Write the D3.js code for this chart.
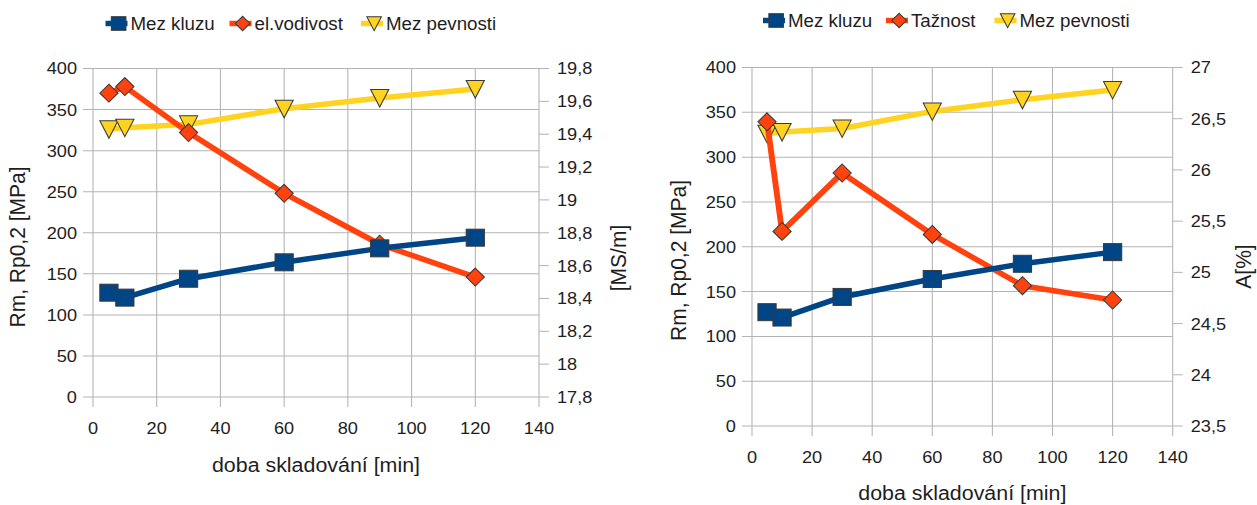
<!DOCTYPE html>
<html>
<head>
<meta charset="utf-8">
<script src="https://cdn.jsdelivr.net/npm/d3@7"></script>
<style>
  html, body { margin: 0; padding: 0; background: #fff; overflow: hidden; }
  text { font-family: "Liberation Sans", Arial, sans-serif; fill: #1e1e1e; }
</style>
</head>
<body>
<svg id="chart" width="1257" height="505"></svg>
<script>
// Storage time (minutes)
const minutes = [5, 10, 30, 60, 90, 120];
// Yield strength Rp0,2 [MPa]
const mezKluzu = [127, 121, 144, 164, 181, 194];
// Tensile strength Rm [MPa]
const mezPevnosti = [326, 328, 332, 351, 364, 375];
// Electrical conductivity [MS/m]
const elVodivost = [19.65, 19.69, 19.41, 19.04, 18.73, 18.53];
// Elongation A [%]
const taznost = [26.47, 25.40, 25.97, 25.37, 24.87, 24.73];

const xTicks = [0, 20, 40, 60, 80, 100, 120, 140];
const stressTicks = [0, 50, 100, 150, 200, 250, 300, 350, 400];
const vodivostTicks = [17.8, 18.0, 18.2, 18.4, 18.6, 18.8, 19.0, 19.2, 19.4, 19.6, 19.8];
const taznostTicks = [23.5, 24.0, 24.5, 25.0, 25.5, 26.0, 26.5, 27.0];

const xTitle = "doba skladování [min]";
const yTitle = "Rm, Rp0,2 [MPa]";

const COLORS = { blue: "#004586", red: "#ff420e", yellow: "#ffd320" };
const GRID = "#b3b3b3";
const MARK_STROKE = "#3a3a3a";

// Drawing is slightly wider than tall; work in a horizontally squeezed space
const SX = 1.07;
const W = 1257 / SX, H = 505;
const X = v => v / SX;

const svg = d3.select("#chart")
  .attr("viewBox", `0 0 ${W} ${H}`)
  .attr("preserveAspectRatio", "none");

const fmt = v => (+v.toFixed(1)).toString().replace(".", ",");

function marker(g, shape, cx, cy, color, k = 1) {
  if (shape === "square") {
    g.append("rect")
      .attr("x", cx - 8.5 * k).attr("y", cy - 8.5 * k)
      .attr("width", 17 * k).attr("height", 17 * k)
      .attr("fill", color).attr("stroke", MARK_STROKE).attr("stroke-width", 1);
  } else if (shape === "diamond") {
    g.append("path")
      .attr("d", `M${cx},${cy - 9 * k}L${cx + 8.5 * k},${cy}L${cx},${cy + 9 * k}L${cx - 8.5 * k},${cy}Z`)
      .attr("fill", color).attr("stroke", MARK_STROKE).attr("stroke-width", 1);
  } else {
    g.append("path")
      .attr("d", `M${cx - 8.5 * k},${cy - 8.5 * k}L${cx + 8.5 * k},${cy - 8.5 * k}L${cx},${cy + 9 * k}Z`)
      .attr("fill", color).attr("stroke", MARK_STROKE).attr("stroke-width", 1);
  }
}

function panel(cfg) {
  const g = svg.append("g");
  const xs = d3.scaleLinear([0, 140], [X(cfg.x0), X(cfg.x1)]);
  const yL = d3.scaleLinear([0, 400], [cfg.y1, cfg.y0]);
  const yR = d3.scaleLinear(cfg.rightDomain, [cfg.y1, cfg.y0]);

  // vertical grid + bottom ticks
  g.selectAll(null).data(xTicks).join("line")
    .attr("x1", d => xs(d)).attr("x2", d => xs(d))
    .attr("y1", cfg.y0).attr("y2", cfg.y1 + 10)
    .attr("stroke", GRID).attr("stroke-width", 1);
  // horizontal grid + left ticks
  g.selectAll(null).data(stressTicks).join("line")
    .attr("x1", X(cfg.x0 - 10)).attr("x2", X(cfg.x1))
    .attr("y1", d => yL(d)).attr("y2", d => yL(d))
    .attr("stroke", GRID).attr("stroke-width", 1);
  // right axis ticks
  g.selectAll(null).data(cfg.rightTicks).join("line")
    .attr("x1", X(cfg.x1)).attr("x2", X(cfg.x1 + 10))
    .attr("y1", d => yR(d)).attr("y2", d => yR(d))
    .attr("stroke", GRID).attr("stroke-width", 1);

  // tick labels
  g.selectAll(null).data(xTicks).join("text")
    .attr("x", d => xs(d)).attr("y", cfg.xLabelY)
    .attr("text-anchor", "middle").attr("font-size", 17)
    .text(d => d);
  g.selectAll(null).data(stressTicks).join("text")
    .attr("x", X(cfg.x0 - 16)).attr("y", d => yL(d) + 6)
    .attr("text-anchor", "end").attr("font-size", 17)
    .text(d => d);
  g.selectAll(null).data(cfg.rightTicks).join("text")
    .attr("x", X(cfg.x1 + 18)).attr("y", d => yR(d) + 6)
    .attr("text-anchor", "start").attr("font-size", 17)
    .text(d => fmt(d));

  // axis titles
  g.append("text")
    .attr("x", X((cfg.x0 + cfg.x1) / 2)).attr("y", cfg.xTitleY)
    .attr("text-anchor", "middle").attr("font-size", 20)
    .text(xTitle);
  g.append("text")
    .attr("transform", `translate(${X(cfg.yTitle[0])},${cfg.yTitle[1]}) rotate(-90)`)
    .attr("text-anchor", "middle").attr("dy", "0.35em").attr("font-size", 21)
    .text(yTitle);
  g.append("text")
    .attr("transform", `translate(${X(cfg.rTitle[0])},${cfg.rTitle[1]}) rotate(-90)`)
    .attr("text-anchor", "middle").attr("dy", "0.35em").attr("font-size", 21)
    .text(cfg.rTitleText);

  // series: drawn back to front
  const series = [
    { values: mezPevnosti, y: yL, color: COLORS.yellow, shape: "triangle" },
    { values: cfg.rightValues, y: yR, color: COLORS.red, shape: "diamond" },
    { values: mezKluzu, y: yL, color: COLORS.blue, shape: "square" }
  ];
  series.forEach(s => {
    const pts = minutes.map((m, i) => [xs(m), s.y(s.values[i])]);
    g.append("path")
      .attr("d", d3.line()(pts))
      .attr("fill", "none").attr("stroke", s.color)
      .attr("stroke-width", 5.5).attr("stroke-linejoin", "round");
    pts.forEach(p => marker(g, s.shape, p[0], p[1], s.color));
  });

  // legend
  const legend = [
    { name: "Mez kluzu", color: COLORS.blue, shape: "square" },
    { name: cfg.rightName, color: COLORS.red, shape: "diamond" },
    { name: "Mez pevnosti", color: COLORS.yellow, shape: "triangle" }
  ];
  legend.forEach((it, i) => {
    const tx = cfg.legendX[i];
    const a = X(tx - 25), b = X(tx - 3);
    g.append("line")
      .attr("x1", a).attr("x2", b)
      .attr("y1", cfg.legendY).attr("y2", cfg.legendY)
      .attr("stroke", it.color).attr("stroke-width", 5.5);
    marker(g, it.shape, (a + b) / 2 + 2, cfg.legendY, it.color, 0.8);
    g.append("text")
      .attr("x", X(tx)).attr("y", cfg.legendY + 6.3)
      .attr("font-size", 17.5)
      .text(it.name);
  });
}

panel({
  x0: 93, x1: 539, y0: 68.5, y1: 397,
  rightDomain: [17.8, 19.8], rightTicks: vodivostTicks, rightValues: elVodivost,
  rightName: "el.vodivost", rTitleText: "[MS/m]",
  xLabelY: 434.5, xTitleY: 472,
  yTitle: [17, 247], rTitle: [618, 258],
  legendX: [130.5, 254.5, 386], legendY: 23.5
});

panel({
  x0: 752, x1: 1172.7, y0: 67.5, y1: 426,
  rightDomain: [23.5, 27], rightTicks: taznostTicks, rightValues: taznost,
  rightName: "Tažnost", rTitleText: "A[%]",
  xLabelY: 463, xTitleY: 500,
  yTitle: [678, 260.5], rTitle: [1243, 266.5],
  legendX: [788, 911, 1019.5], legendY: 20.5
});
</script>
</body>
</html>
